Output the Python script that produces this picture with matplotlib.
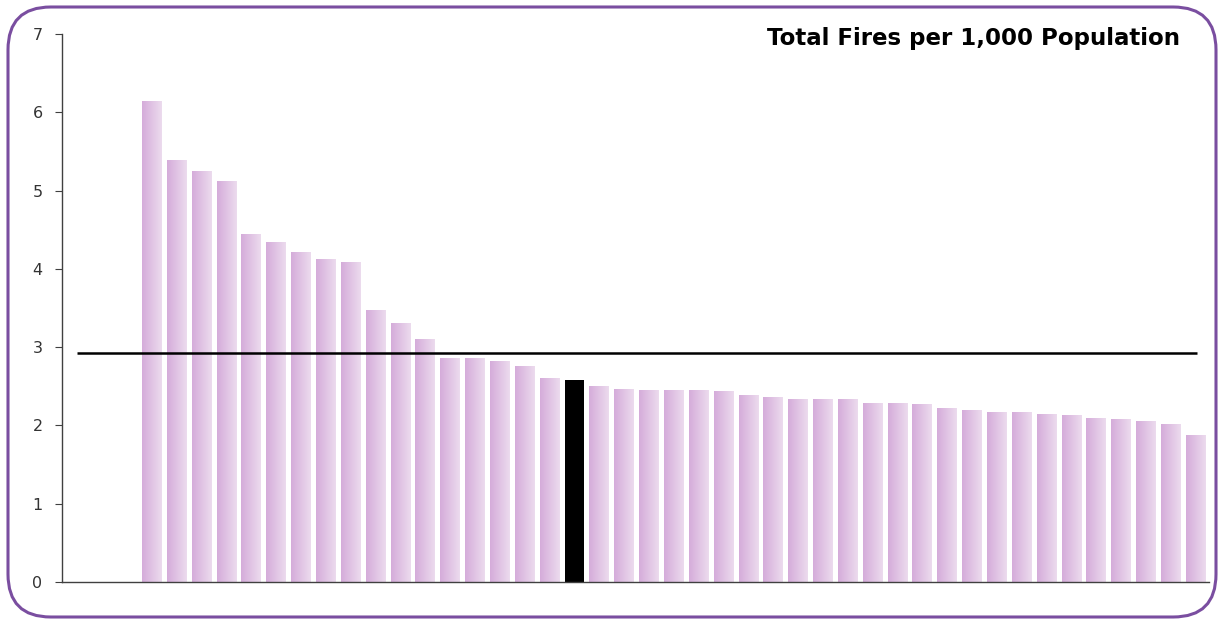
import numpy as np
import matplotlib
matplotlib.use('Agg')
import matplotlib.pyplot as plt
from matplotlib.patches import FancyBboxPatch
from matplotlib.colors import LinearSegmentedColormap

# Total fires per 1,000 population, sorted (one highlighted area)
values = [6.14, 5.39, 5.25, 5.12, 4.44, 4.34, 4.21, 4.12, 4.09, 3.47,
          3.31, 3.11, 2.86, 2.86, 2.82, 2.76, 2.61, 2.58, 2.50, 2.47,
          2.45, 2.45, 2.45, 2.44, 2.39, 2.36, 2.34, 2.34, 2.34, 2.29,
          2.29, 2.27, 2.22, 2.20, 2.17, 2.17, 2.15, 2.13, 2.10, 2.08,
          2.06, 2.02, 1.88]
highlight = 17
average = 2.93
yticks = [0, 1, 2, 3, 4, 5, 6, 7]
title = 'Total Fires per 1,000 Population'

fig = plt.figure(figsize=(12.24, 6.2), dpi=100)
ax = fig.add_axes([0.0507, 0.0613, 0.937, 0.8839])

x = np.arange(len(values))
bars = ax.bar(x, values, width=0.8, color='#e2c5e5', edgecolor='none', zorder=2)

# gradient fill on the pink bars, black for the highlighted one
grad = LinearSegmentedColormap.from_list('g', ['#d5acda', '#ecdbee'])
g = np.linspace(0, 1, 64).reshape(1, -1)
for i, b in enumerate(bars):
    if i == highlight:
        b.set_facecolor('black')
        continue
    x0, w, h = b.get_x(), b.get_width(), b.get_height()
    im = ax.imshow(g, cmap=grad, extent=[x0, x0 + w, 0, h], aspect='auto', zorder=2.5)
    im.set_clip_path(b)

ax.hlines(average, -3.0, 42.05, color='black', linewidth=1.8, zorder=3)

ax.set_xlim(-3.62, 42.53)
ax.set_ylim(0, 7)
ax.set_yticks(yticks)
ax.set_xticks([])
for s in ['top', 'right']:
    ax.spines[s].set_visible(False)
for s in ['left', 'bottom']:
    ax.spines[s].set_color('#404040')
    ax.spines[s].set_linewidth(1.0)
ax.tick_params(axis='y', length=5, color='#404040', labelsize=11.5, labelcolor='#333333', pad=9)

fig.text(0.964, 1 - 45 / 620, title, ha='right', va='baseline',
         fontsize=16.5, fontweight='bold', color='black')

# rounded purple frame
frame = FancyBboxPatch((8 / 1224, 3 / 620), 1208 / 1224, 610 / 620,
                       boxstyle='round,pad=0,rounding_size=0.035',
                       transform=fig.transFigure, fill=False,
                       edgecolor='#7a4ea0', linewidth=2.2, mutation_aspect=1224 / 620)
fig.patches.append(frame)

fig.savefig('out.png', dpi=100)
